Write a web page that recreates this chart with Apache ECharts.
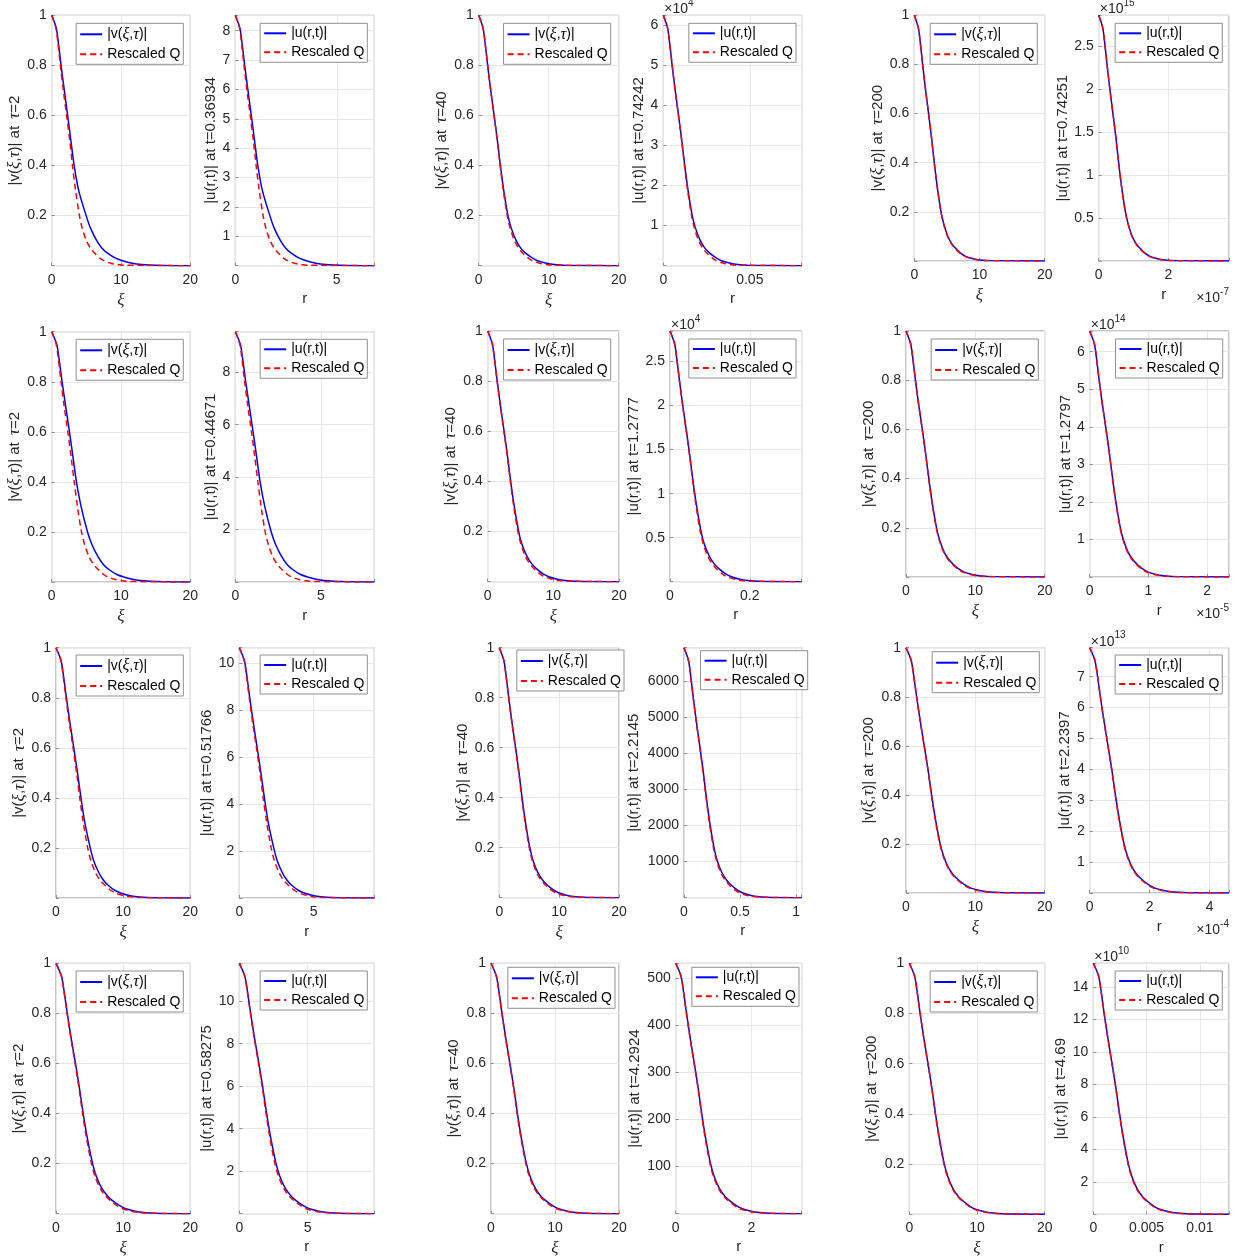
<!DOCTYPE html>
<html><head><meta charset="utf-8">
<script src="https://cdn.jsdelivr.net/npm/echarts@6/dist/echarts.min.js"></script>
<style>html,body{margin:0;padding:0;background:#fff}#c{width:1240px;height:1260px}</style>
</head><body><div id="c"></div>
<script>
// ---------------- DATA ----------------
// Fractions of the peak value at which the xi-positions of each curve were read off the picture
const levels = [1, 0.95, 0.9, 0.8, 0.7, 0.6, 0.5, 0.4, 0.3, 0.2, 0.15, 0.1, 0.07, 0.05, 0.03, 0.02, 0.01, 0.005, 0.002, 0];

// xi-positions of |v(xi,tau)| (v*) and of the rescaled Q (q*) for run 1..4 and tau = 2, 40, 200
const v1_tau2   = [0, 0.65, 0.92, 1.35, 1.82, 2.3, 2.77, 3.24, 3.9, 4.97, 5.6, 6.5, 7.25, 8.05, 9.2, 10.2, 11.6, 13.0, 15.0, 20];
const q1_tau2   = [0, 0.6, 0.85, 1.25, 1.68, 2.15, 2.6, 3.0, 3.45, 4.0, 4.4, 5.0, 5.6, 6.2, 6.95, 7.5, 8.5, 9.4, 10.5, 20];
const v1_tau40  = [0, 0.61, 0.87, 1.28, 1.72, 2.2, 2.67, 3.1, 3.58, 4.18, 4.65, 5.35, 6.0, 6.7, 7.7, 8.4, 9.7, 10.8, 12.2, 20];
const q1_tau40  = [0, 0.61, 0.87, 1.28, 1.71, 2.19, 2.65, 3.06, 3.52, 4.08, 4.5, 5.1, 5.7, 6.3, 7.1, 7.65, 8.7, 9.6, 10.7, 20];
const v1_tau200 = [0, 0.61, 0.87, 1.28, 1.71, 2.19, 2.65, 3.06, 3.53, 4.1, 4.53, 5.15, 5.77, 6.4, 7.2, 7.8, 8.9, 9.85, 11.0, 20];
const q1_tau200 = [0, 0.61, 0.87, 1.28, 1.71, 2.19, 2.65, 3.06, 3.52, 4.08, 4.5, 5.1, 5.7, 6.3, 7.1, 7.65, 8.7, 9.6, 10.7, 20];

const v2_tau2   = [0, 0.72, 1.02, 1.5, 2.03, 2.56, 3.07, 3.57, 4.25, 5.17, 5.8, 6.7, 7.45, 8.25, 9.4, 10.4, 11.8, 13.2, 15.2, 20];
const q2_tau2   = [0, 0.65, 0.92, 1.35, 1.81, 2.33, 2.8, 3.25, 3.72, 4.3, 4.75, 5.4, 6.05, 6.7, 7.5, 8.1, 9.2, 10.15, 11.3, 20];
const v2_tau40  = [0, 0.69, 0.98, 1.45, 1.95, 2.5, 3.02, 3.5, 4.05, 4.72, 5.2, 6.0, 6.75, 7.5, 8.5, 9.3, 10.6, 11.8, 13.3, 20];
const q2_tau40  = [0, 0.69, 0.98, 1.44, 1.93, 2.47, 2.99, 3.45, 3.97, 4.6, 5.06, 5.75, 6.45, 7.13, 8.0, 8.6, 9.8, 10.8, 12.1, 20];
const v2_tau200 = [0, 0.65, 0.93, 1.36, 1.83, 2.35, 2.84, 3.29, 3.79, 4.4, 4.85, 5.52, 6.2, 6.88, 7.75, 8.4, 9.55, 10.6, 11.9, 20];
const q2_tau200 = [0, 0.65, 0.93, 1.36, 1.83, 2.34, 2.83, 3.27, 3.76, 4.36, 4.8, 5.45, 6.1, 6.76, 7.58, 8.18, 9.27, 10.25, 11.45, 20];

const v3_tau2   = [0, 0.74, 1.05, 1.55, 2.08, 2.65, 3.2, 3.72, 4.3, 5.1, 5.6, 6.4, 7.1, 7.8, 8.8, 9.6, 10.9, 12.1, 13.6, 20];
const q3_tau2   = [0, 0.71, 1.0, 1.48, 1.98, 2.54, 3.07, 3.54, 4.07, 4.72, 5.19, 5.9, 6.6, 7.3, 8.2, 8.85, 10.0, 11.1, 12.4, 20];
const v3_tau40  = [0, 0.75, 1.07, 1.58, 2.12, 2.72, 3.29, 3.8, 4.38, 5.1, 5.62, 6.45, 7.25, 8.05, 9.1, 9.9, 11.2, 12.4, 13.9, 20];
const q3_tau40  = [0, 0.75, 1.06, 1.56, 2.1, 2.69, 3.25, 3.75, 4.31, 5.0, 5.5, 6.25, 7.0, 7.75, 8.7, 9.4, 10.6, 11.75, 13.1, 20];
const v3_tau200 = [0, 0.73, 1.04, 1.53, 2.06, 2.63, 3.19, 3.69, 4.25, 4.93, 5.43, 6.18, 6.93, 7.7, 8.66, 9.37, 10.65, 11.8, 13.2, 20];
const q3_tau200 = [0, 0.73, 1.04, 1.53, 2.05, 2.62, 3.17, 3.66, 4.21, 4.88, 5.37, 6.1, 6.83, 7.56, 8.48, 9.15, 10.37, 11.47, 12.8, 20];

const v4_tau2   = [0, 0.8, 1.14, 1.68, 2.26, 2.9, 3.5, 4.05, 4.68, 5.45, 6.0, 6.85, 7.7, 8.5, 9.6, 10.4, 11.8, 13.1, 14.7, 20];
const q4_tau2   = [0, 0.79, 1.12, 1.65, 2.22, 2.84, 3.43, 3.96, 4.55, 5.28, 5.8, 6.6, 7.4, 8.2, 9.2, 9.9, 11.2, 12.4, 13.9, 20];
const v4_tau40  = [0, 0.82, 1.17, 1.72, 2.31, 2.95, 3.58, 4.13, 4.76, 5.53, 6.1, 6.95, 7.8, 8.65, 9.75, 10.55, 12.0, 13.3, 14.9, 20];
const q4_tau40  = [0, 0.82, 1.16, 1.7, 2.29, 2.92, 3.54, 4.08, 4.69, 5.44, 5.98, 6.8, 7.62, 8.43, 9.45, 10.2, 11.55, 12.8, 14.3, 20];
const v4_tau200 = [0, 0.77, 1.09, 1.6, 2.16, 2.76, 3.35, 3.87, 4.46, 5.17, 5.7, 6.48, 7.27, 8.07, 9.07, 9.8, 11.15, 12.35, 13.8, 20];
const q4_tau200 = [0, 0.77, 1.09, 1.6, 2.15, 2.75, 3.33, 3.84, 4.42, 5.12, 5.63, 6.4, 7.17, 7.94, 8.9, 9.6, 10.9, 12.0, 13.4, 20];

const tauValues = [2, 40, 200];
// physical times t for each run (row) and tau (column)
const tRun1 = ['0.36934', '0.74242', '0.74251'];
const tRun2 = ['0.44671', '1.2777', '1.2797'];
const tRun3 = ['0.51766', '2.2145', '2.2397'];
const tRun4 = ['0.58275', '4.2924', '4.69'];
// peak of |u(r,t)| and largest r shown, per run and tau
const uPeakRun1 = [8.525, 6.25e4, 2.86e15];
const uPeakRun2 = [9.55, 2.847e4, 6.55e14];
const uPeakRun3 = [10.68, 6919, 7.94e13];
const uPeakRun4 = [11.78, 531.9, 1.545e11];
const rMaxRun1 = [6.85, 0.08, 3.74e-7];
const rMaxRun2 = [8.11, 0.33, 2.37e-5];
const rMaxRun3 = [9.08, 1.05, 4.65e-4];
const rMaxRun4 = [9.89, 3.33, 0.01272];
// axis exponents (x10^n) and tick steps of the |u| panels (in mantissa units)
const uYExp = [[0, 4, 15], [0, 4, 14], [0, 0, 13], [0, 0, 10]];
const uXExp = [[0, 0, -7], [0, 0, -5], [0, 0, -4], [0, 0, 0]];
const uYStep = [[1, 1, 0.5], [2, 0.5, 1], [2, 1000, 1], [2, 100, 2]];
const uXStep = [[5, 0.05, 2], [5, 0.2, 1], [5, 0.5, 2], [5, 2, 0.005]];
const xiMax = 20, xiStep = 10, vStep = 0.2;

// ---------------- LAYOUT ----------------
const boxes = [
 [[51.7,15.3,190.3,265.7],[235.3,15.3,374.3,265.7],[478.7,15.3,618.7,265.7],[663.3,15.3,801.7,265.7],[914.3,15.3,1044.7,261],[1098.7,15.3,1229,261]],
 [[51.7,331.7,190.3,582],[235.3,331.7,374.3,582],[487.7,331,619,581.7],[670,331,801.7,581.7],[906,331,1044.7,577],[1089.7,331,1229,577]],
 [[56,647.7,190.3,898],[239.3,647.7,374.3,898],[499.3,647.7,619,897.7],[684,647.7,801.7,897.7],[906,647.7,1044.7,893],[1089.7,647.7,1229,893]],
 [[56,963.3,190.3,1213.7],[239.3,963.3,374.3,1213.7],[491,963.3,619,1213.7],[675.7,963.3,801.7,1213.7],[909.3,963.3,1044.7,1214.3],[1093.3,963.3,1229,1214.3]]
];
const legRight = [
 [183.3,367.3,610.7,796,1037.3,1222.3],
 [183.3,367.3,610.7,796,1038.3,1222.7],
 [183.3,367.3,624,807.7,1039.3,1222.3],
 [183.3,367.3,615,799,1037.3,1222.3]
];
const legTop = [
 [23.3,23.3,23.3,23.3,23.3,23.3],
 [339.3,339.3,339,339,339,339],
 [655,655,650,650.7,651.7,655],
 [971,971,967.3,967.3,971,971]
];
const yNameOff = [
 [36.7,22.6,35.4,25,34.3,35.4],
 [36.7,22,34.4,33.3,36.7,24.7],
 [33.3,31,36,50.7,36.7,25.4],
 [33.3,31,36.7,41.4,36.6,30]
];

// ---------------- BUILD ----------------
const vCurves = [[v1_tau2,v1_tau40,v1_tau200],[v2_tau2,v2_tau40,v2_tau200],[v3_tau2,v3_tau40,v3_tau200],[v4_tau2,v4_tau40,v4_tau200]];
const qCurves = [[q1_tau2,q1_tau40,q1_tau200],[q2_tau2,q2_tau40,q2_tau200],[q3_tau2,q3_tau40,q3_tau200],[q4_tau2,q4_tau40,q4_tau200]];
const tRuns = [tRun1,tRun2,tRun3,tRun4];
const uPeaks = [uPeakRun1,uPeakRun2,uPeakRun3,uPeakRun4];
const rMaxs = [rMaxRun1,rMaxRun2,rMaxRun3,rMaxRun4];

const FONT = '"Liberation Sans", Arial, Helvetica, sans-serif';
const SERIF = '"Liberation Serif", "DejaVu Serif", serif';
const TXT = '#262626';
const BOXC = '#8f8f8f';
const GRIDC = '#e6e6e6';
const BLUE = '#0000ff', RED = '#ff0000';
const richI = {i: {fontFamily: SERIF, fontStyle: 'italic', fontSize: 17, color: TXT}};

function labelFmt(step, hideZero) {
  return function (v) {
    const k = v / step;
    if (Math.abs(k - Math.round(k)) > 1e-6) return '';
    if (hideZero && Math.abs(k) < 1e-9) return '';
    return String(parseFloat(v.toPrecision(10)));
  };
}

const grids = [], xAxes = [], yAxes = [], series = [], legends = [], graphics = [];
const V_NAME = '|v(ξ,τ)|', U_NAME = '|u(r,t)|', Q_NAME = 'Rescaled Q';
const TS = '\u2009';

function addPanel(r, c, isU) {
  const k = Math.floor(c / 2);
  const b = boxes[r][c];
  const gi = grids.length;
  grids.push({left: b[0], top: b[1], width: b[2] - b[0], height: b[3] - b[1], show: true,
    borderColor: BOXC, borderWidth: 1, backgroundColor: '#fff', containLabel: false, outerBoundsMode: 'none'});
  let xMax, xStep, yMax, yStep, sx, sy;
  if (isU) {
    const xe = Math.pow(10, uXExp[r][k]), ye = Math.pow(10, uYExp[r][k]);
    xMax = rMaxs[r][k] / xe; yMax = uPeaks[r][k] / ye;
    xStep = uXStep[r][k]; yStep = uYStep[r][k];
    sx = xMax / xiMax; sy = yMax;
  } else {
    xMax = xiMax; yMax = 1; xStep = xiStep; yStep = vStep; sx = 1; sy = 1;
  }
  const axisCommon = {
    type: 'value', gridIndex: gi, min: 0,
    axisLine: {show: false},
    axisTick: {show: true, inside: true, length: 3, lineStyle: {color: BOXC, width: 1}},
    splitLine: {show: true, lineStyle: {color: GRIDC, width: 1}},
    nameLocation: 'middle'
  };
  xAxes.push(Object.assign({}, axisCommon, {
    max: xMax, interval: xStep,
    axisLabel: {formatter: labelFmt(xStep, false), margin: 7, fontFamily: FONT, fontSize: 14, color: TXT},
    name: isU ? 'r' : '{i|ξ}', nameGap: 26,
    nameTextStyle: {fontFamily: FONT, fontSize: 15, color: TXT, rich: richI}
  }));
  const yName = isU ? ('|u(r,t)| at t=' + tRuns[r][k])
                    : ('|v({i|ξ},{i|τ})| at ' + TS + '{i|τ}=' + tauValues[k]);
  yAxes.push(Object.assign({}, axisCommon, {
    max: yMax, interval: yStep,
    axisLabel: {formatter: labelFmt(yStep, true), margin: 5, fontFamily: FONT, fontSize: 14, color: TXT},
    name: yName, nameGap: yNameOff[r][c] - 8, nameRotate: 90,
    nameTextStyle: {fontFamily: FONT, fontSize: 15, color: TXT, rich: richI}
  }));
  const blue = vCurves[r][k], red = qCurves[r][k];
  const nm = isU ? U_NAME : V_NAME;
  series.push({
    type: 'line', name: nm, xAxisIndex: gi, yAxisIndex: gi,
    data: levels.map((L, i) => [blue[i] * sx, L * sy]),
    showSymbol: false, symbol: 'none', smooth: 0.3,
    lineStyle: {color: BLUE, width: 1.5}, itemStyle: {color: BLUE}, z: 3, animation: false
  });
  series.push({
    type: 'line', name: Q_NAME, xAxisIndex: gi, yAxisIndex: gi,
    data: levels.map((L, i) => [red[i] * sx, L * sy]),
    showSymbol: false, symbol: 'none', smooth: 0.3,
    lineStyle: {color: RED, width: 1.5, type: [6, 4]}, itemStyle: {color: RED}, z: 4, animation: false
  });
  legends.push({
    data: [nm, Q_NAME], orient: 'vertical', right: 1240 - legRight[r][c], top: legTop[r][c],
    backgroundColor: '#fff', borderColor: BOXC, borderWidth: 1, borderRadius: 0,
    padding: [3, 3, 3, 3], itemGap: 5, itemWidth: 22, itemHeight: 14, selectedMode: false,
    itemStyle: {opacity: 0},
    textStyle: {fontFamily: FONT, fontSize: 14, color: '#000', rich: {i: {fontFamily: SERIF, fontStyle: 'italic', fontSize: 16, color: '#000'}}},
    formatter: function (name) { return name === V_NAME ? '|v({i|ξ},{i|τ})|' : name; }
  });
  const rich = {b: {fontFamily: FONT, fontSize: 14, fill: TXT, verticalAlign: 'bottom', lineHeight: 18},
                s: {fontFamily: FONT, fontSize: 10, fill: TXT, verticalAlign: 'top'}};
  if (isU && uYExp[r][k] !== 0) {
    graphics.push({type: 'text', x: b[0] + 1, y: b[1] + 1, silent: true, z: 10,
      style: {text: '{b|×10}{s|' + uYExp[r][k] + '}', align: 'left', verticalAlign: 'bottom', rich: rich}});
  }
  if (isU && uXExp[r][k] !== 0) {
    graphics.push({type: 'text', x: b[2], y: b[3] + 44, silent: true, z: 10,
      style: {text: '{b|×10}{s|' + uXExp[r][k] + '}', align: 'right', verticalAlign: 'bottom', rich: rich}});
  }
}

for (let r = 0; r < 4; r++) {
  for (let k = 0; k < 3; k++) {
    addPanel(r, 2 * k, false);
    addPanel(r, 2 * k + 1, true);
  }
}

const chart = echarts.init(document.getElementById('c'), null, {renderer: 'canvas'});
chart.setOption({
  animation: false,
  backgroundColor: '#fff',
  textStyle: {fontFamily: FONT},
  grid: grids, xAxis: xAxes, yAxis: yAxes, series: series, legend: legends, graphic: graphics
});
</script></body></html>
